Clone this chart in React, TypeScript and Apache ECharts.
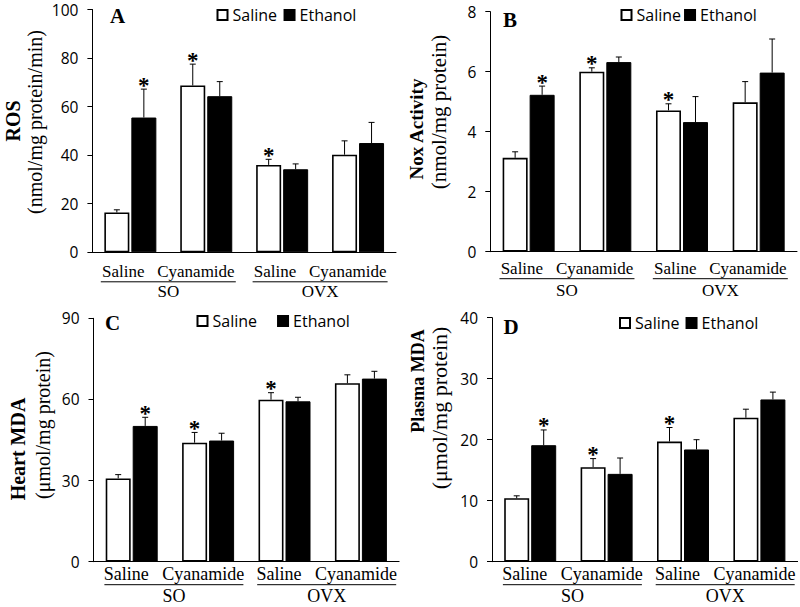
import React, { useEffect, useRef } from "react";
import * as echarts from "echarts";

// ---------- data ----------
const categories = ["SO-Saline", "SO-Cyanamide", "OVX-Saline", "OVX-Cyanamide"];
const subLabels = ["Saline", "Cyanamide"];
const groupLabels = ["SO", "OVX"];
const seriesNames = ["Saline", "Ethanol"];

const panelLetters = ["A", "B", "C", "D"];
const yTitles = ["ROS", "Nox Activity", "Heart MDA", "Plasma MDA"];
const yUnits = ["(nmol/mg protein/min)", "(nmol/mg protein)", "(μmol/mg protein)", "(μmol/mg protein)"];
const yMax = [100, 8, 90, 40];
const yInterval = [20, 2, 30, 10];

// Panel A – ROS
const rosSaline = [16.4, 68.7, 36.0, 40.2];
const rosSalineErr = [1.1, 8.8, 2.3, 5.7];
const rosEthanol = [55.5, 64.3, 34.2, 45.0];
const rosEthanolErr = [11.7, 6.0, 2.2, 8.5];

// Panel B – Nox activity
const noxSaline = [3.13, 6.0, 4.71, 4.98];
const noxSalineErr = [0.2, 0.13, 0.22, 0.69];
const noxEthanol = [5.23, 6.32, 4.32, 5.97];
const noxEthanolErr = [0.29, 0.17, 0.85, 1.12];

// Panel C – Heart MDA
const heartSaline = [30.8, 44.0, 59.9, 66.0];
const heartSalineErr = [1.4, 3.8, 2.6, 3.1];
const heartEthanol = [50.2, 44.8, 59.3, 67.7];
const heartEthanolErr = [3.2, 2.7, 1.5, 2.7];

// Panel D – Plasma MDA
const plasmaSaline = [10.4, 15.5, 19.7, 23.6];
const plasmaSalineErr = [0.4, 1.4, 2.3, 1.4];
const plasmaEthanol = [19.1, 14.4, 18.4, 26.6];
const plasmaEthanolErr = [2.5, 2.6, 1.6, 1.2];

// significance markers (*)
const salineSig = [false, true, true, false];
const ethanolSig = [true, false, false, false];

const panelData = [
  [rosSaline, rosSalineErr, rosEthanol, rosEthanolErr],
  [noxSaline, noxSalineErr, noxEthanol, noxEthanolErr],
  [heartSaline, heartSalineErr, heartEthanol, heartEthanolErr],
  [plasmaSaline, plasmaSalineErr, plasmaEthanol, plasmaEthanolErr],
];

// ---------- layout ----------
const grids = [
  { left: 92.4, top: 9.5, width: 303.6, height: 242.8 },
  { left: 490.3, top: 11.7, width: 306.7, height: 240 },
  { left: 93.5, top: 318.3, width: 305.6, height: 243.4 },
  { left: 492, top: 317.7, width: 305.6, height: 244 },
];
const titlePos = [
  { t1: [12.5, 121], t2: [35, 122], f1: 20, f2: 20 },
  { t1: [416.5, 129], t2: [438.5, 112], f1: 19, f2: 21 },
  { t1: [18, 449], t2: [43, 425], f1: 20, f2: 20 },
  { t1: [418, 381], t2: [439, 408], f1: 18, f2: 22 },
];
const legendPos = [
  { left: 216.5, cy: 15, gap: 6.5 },
  { left: 620.5, cy: 15, gap: 3 },
  { left: 196.5, cy: 321, gap: 20 },
  { left: 619, cy: 323, gap: 6 },
];
const letterPos = [
  [110, 15.5],
  [503, 20],
  [105, 322.5],
  [503.5, 326.5],
];
const xLabelLayout = [
  { lab: 19, line: 29.5, grp: 39, fs: 17, w: 135, dx: 0 },
  { lab: 17, line: 27, grp: 38.5, fs: 17, w: 135, dx: 0 },
  { lab: 12.5, line: 23, grp: 34.5, fs: 18, w: 139, dx: 4 },
  { lab: 12.5, line: 23, grp: 34.5, fs: 18, w: 139, dx: 4 },
];

const BAR_W = 25;
const BAR_GAP = 2;
const SERIF = "'Liberation Serif', 'Times New Roman', serif";
const SANS = "'Open Sans', 'Noto Sans', sans-serif";

function errorRenderer(offset: number) {
  return (params: any, api: any) => {
    const idx = api.value(0);
    const v = api.value(1);
    const e = api.value(2);
    const sig = api.value(3);
    const base = api.coord([idx, v]);
    const top = api.coord([idx, v + e]);
    const x = base[0] + offset;
    const children: any[] = [
      {
        type: "line",
        shape: { x1: x, y1: base[1], x2: x, y2: top[1] },
        style: { stroke: "#000", lineWidth: 1 },
      },
      {
        type: "line",
        shape: { x1: x - 3, y1: top[1], x2: x + 3, y2: top[1] },
        style: { stroke: "#000", lineWidth: 1 },
      },
    ];
    if (sig) {
      children.push({
        type: "text",
        x: x,
        y: top[1] - 4,
        style: {
          text: "*",
          fill: "#000",
          fontSize: 23,
          fontWeight: "bold",
          fontFamily: SERIF,
          align: "center",
          verticalAlign: "middle",
        },
      });
    }
    return { type: "group", children };
  };
}

export default function App() {
  const ref = useRef<HTMLDivElement>(null);

  useEffect(() => {
    if (!ref.current) return;
    const chart = echarts.init(ref.current, undefined, { renderer: "svg" });

    const series: any[] = [];
    const xAxes: any[] = [];
    const yAxes: any[] = [];
    const legends: any[] = [];

    panelData.forEach((pd, p) => {
      const [sv, se, ev, ee] = pd;
      xAxes.push({
        type: "category",
        gridIndex: p,
        data: categories,
        axisLine: { show: true, lineStyle: { color: "#000", width: 1 } },
        axisTick: { show: false },
        axisLabel: { show: false },
        splitLine: { show: false },
      });
      yAxes.push({
        type: "value",
        gridIndex: p,
        min: 0,
        max: yMax[p],
        interval: yInterval[p],
        axisLine: { show: true, lineStyle: { color: "#000", width: 1 } },
        axisTick: { show: true, length: 5, lineStyle: { color: "#000" } },
        axisLabel: { color: "#000", fontFamily: SANS, fontSize: 15.5, lineHeight: 13, margin: 14 },
        splitLine: { show: false },
      });
      series.push({
        name: seriesNames[0],
        type: "bar",
        xAxisIndex: p,
        yAxisIndex: p,
        barWidth: BAR_W,
        barGap: (BAR_GAP / BAR_W) * 100 + "%",
        data: sv,
        itemStyle: { color: "#fff", borderColor: "#000", borderWidth: 1.6 },
      });
      series.push({
        name: seriesNames[1],
        type: "bar",
        xAxisIndex: p,
        yAxisIndex: p,
        barWidth: BAR_W,
        barGap: (BAR_GAP / BAR_W) * 100 + "%",
        data: ev,
        itemStyle: { color: "#000", borderColor: "#000", borderWidth: 1 },
      });
      series.push({
        name: "err-s-" + p,
        type: "custom",
        xAxisIndex: p,
        yAxisIndex: p,
        z: 5,
        renderItem: errorRenderer(-(BAR_W + BAR_GAP) / 2),
        data: sv.map((v, i) => [i, v, se[i], salineSig[i] ? 1 : 0]),
      });
      series.push({
        name: "err-e-" + p,
        type: "custom",
        xAxisIndex: p,
        yAxisIndex: p,
        z: 5,
        renderItem: errorRenderer((BAR_W + BAR_GAP) / 2),
        data: ev.map((v, i) => [i, v, ee[i], ethanolSig[i] ? 1 : 0]),
      });
      legends.push({
        data: seriesNames,
        left: legendPos[p].left,
        top: legendPos[p].cy - 8,
        padding: 0,
        itemGap: legendPos[p].gap,
        itemWidth: 10,
        itemHeight: 10,
        icon: "rect",
        selectedMode: false,
        textStyle: { fontFamily: SANS, fontSize: 16, color: "#000", padding: [0, 0, 0, 0] },
      });
    });

    chart.setOption({
      animation: false,
      backgroundColor: "#fff",
      grid: grids.map((g) => ({ ...g, containLabel: false })),
      xAxis: xAxes,
      yAxis: yAxes,
      legend: legends,
      series,
    });

    // overlay texts positioned through the axes
    const elements: any[] = [];
    panelData.forEach((_, p) => {
      const tp = titlePos[p];
      elements.push({
        type: "text",
        x: tp.t1[0],
        y: tp.t1[1],
        rotation: Math.PI / 2,
        style: {
          text: yTitles[p],
          fill: "#000",
          fontFamily: SERIF,
          fontWeight: "bold",
          fontSize: tp.f1,
          align: "center",
          verticalAlign: "middle",
        },
      });
      elements.push({
        type: "text",
        x: tp.t2[0],
        y: tp.t2[1],
        rotation: Math.PI / 2,
        style: {
          text: yUnits[p],
          fill: "#000",
          fontFamily: SERIF,
          fontSize: tp.f2,
          align: "center",
          verticalAlign: "middle",
        },
      });
      elements.push({
        type: "text",
        x: letterPos[p][0],
        y: letterPos[p][1],
        style: {
          text: panelLetters[p],
          fill: "#000",
          fontFamily: SERIF,
          fontWeight: "bold",
          fontSize: 21,
          align: "left",
          verticalAlign: "middle",
        },
      });
      const xl = xLabelLayout[p];
      groupLabels.forEach((gl, g) => {
        const a = chart.convertToPixel({ gridIndex: p } as any, [g * 2, 0]) as number[];
        const b = chart.convertToPixel({ gridIndex: p } as any, [g * 2 + 1, 0]) as number[];
        const cx = (a[0] + b[0]) / 2 + xl.dx;
        const y0 = a[1];
        elements.push({
          type: "text",
          x: cx,
          y: y0 + xl.lab,
          style: {
            text: subLabels[0] + "   " + subLabels[1],
            fill: "#000",
            fontFamily: SERIF,
            fontSize: xl.fs,
            align: "center",
            verticalAlign: "middle",
          },
        });
        elements.push({
          type: "line",
          shape: { x1: cx - xl.w / 2, y1: y0 + xl.line, x2: cx + xl.w / 2, y2: y0 + xl.line },
          style: { stroke: "#000", lineWidth: 1 },
        });
        elements.push({
          type: "text",
          x: cx,
          y: y0 + xl.grp,
          style: {
            text: gl,
            fill: "#000",
            fontFamily: SERIF,
            fontSize: xl.fs,
            align: "center",
            verticalAlign: "middle",
          },
        });
      });
    });
    chart.setOption({ graphic: { elements } });

    return () => chart.dispose();
  }, []);

  return <div ref={ref} style={{ width: 800, height: 607, position: "absolute", left: 0, top: 0 }} />;
}
